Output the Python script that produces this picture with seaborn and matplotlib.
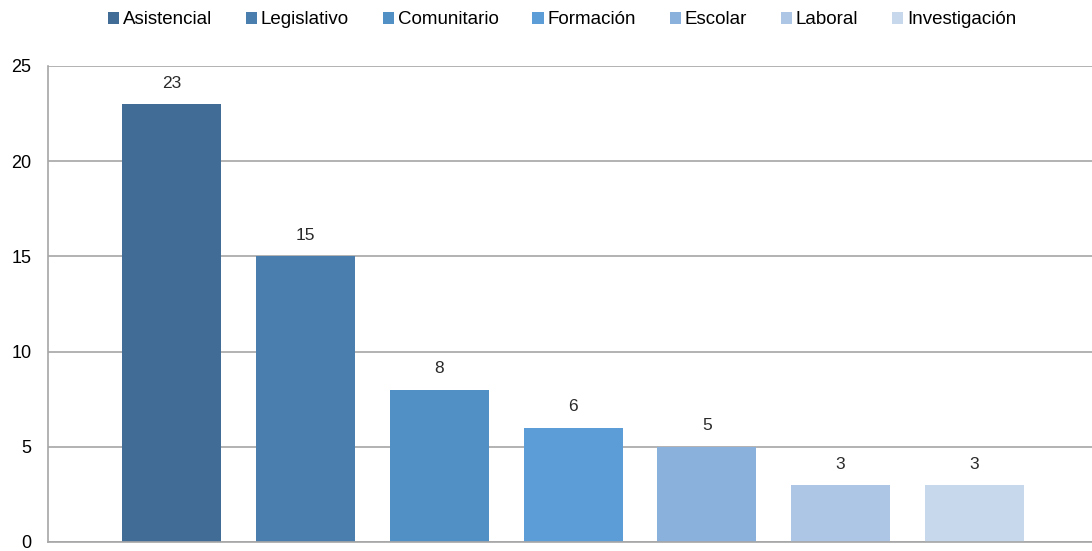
import matplotlib
matplotlib.use("Agg")
import matplotlib.pyplot as plt
import seaborn as sns
import pandas as pd
from matplotlib.patches import Patch

categories = ["Asistencial", "Legislativo", "Comunitario", "Formación",
              "Escolar", "Laboral", "Investigación"]
values = [23, 15, 8, 6, 5, 3, 3]
colors = ["#416C96", "#4A7EAE", "#5190C5", "#5C9DD7", "#8AB0DC", "#ADC6E5", "#C7D8EC"]
y_ticks = [0, 5, 10, 15, 20, 25]

sns.set_theme(style="white")
plt.rcParams["font.family"] = ["Liberation Sans", "DejaVu Sans"]

df = pd.DataFrame({"categoria": categories, "valor": values})

fig = plt.figure(figsize=(10.92, 5.51), dpi=100)
ax = fig.add_axes([48 / 1092, 1 - 542 / 551, 1 - 48 / 1092, (542 - 66) / 551])

sns.barplot(data=df, x="categoria", y="valor", hue="categoria",
            palette=colors, order=categories, hue_order=categories,
            width=0.74, dodge=False, legend=False, ax=ax, saturation=1,
            linewidth=0)

for i, v in enumerate(values):
    ax.text(i, v + 0.7, str(v), ha="center", va="bottom",
            fontsize=12.5, color="#2a2a2a")

ax.set_ylim(0, 25)
ax.set_xlim(-0.927, 6.88)
ax.set_yticks(y_ticks)
ax.set_yticklabels([str(t) for t in y_ticks], fontsize=13, color="#000000")
ax.set_xticks([])
ax.set_xlabel("")
ax.set_ylabel("")
ax.yaxis.grid(True, color="#A6A6A6", linewidth=1.2)
ax.set_axisbelow(True)
ax.tick_params(axis="y", length=0, pad=12)
for side in ["top", "right"]:
    ax.spines[side].set_visible(False)
for side in ["left", "bottom"]:
    ax.spines[side].set_color("#A6A6A6")
    ax.spines[side].set_linewidth(1.2)

handles = [Patch(facecolor=c, edgecolor="none") for c in colors]
leg = fig.legend(handles, categories, loc="center",
                 bbox_to_anchor=(562 / 1092, 1 - 20 / 551),
                 ncol=len(categories), frameon=False, prop={"size": 13.5},
                 handlelength=0.6, handleheight=0.6, handletextpad=0.2,
                 columnspacing=1.8)
for t in leg.get_texts():
    t.set_color("#000000")

fig.savefig("out.png", dpi=100)
